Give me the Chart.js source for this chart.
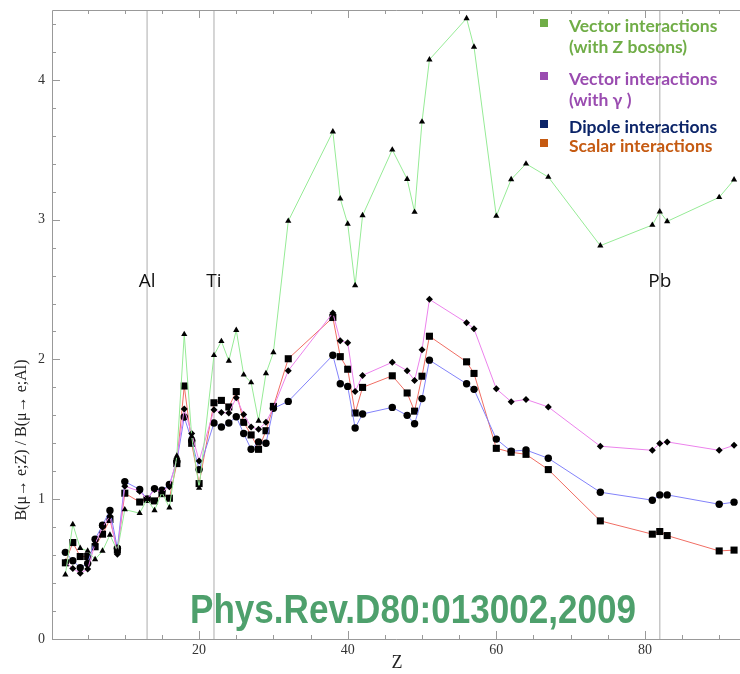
<!DOCTYPE html>
<html>
<head>
<meta charset="utf-8">
<script src="https://cdn.jsdelivr.net/npm/chart.js@4"></script>
<style>
  body { margin: 0; background: #fff; }
  canvas { display: block; }
</style>
</head>
<body>
<canvas id="grafico" width="740" height="674"></canvas>
<script>
// atomic number of each target nucleus
const Z = [2, 3, 4, 5, 6, 7, 8, 9, 10, 12, 13, 14, 15, 16, 17, 18, 19, 20,
  22, 23, 24, 25, 26, 27, 28, 29, 30, 32, 38, 39, 40, 41, 42, 46, 48, 49, 50, 51,
  56, 57, 60, 62, 64, 67, 74, 81, 82, 83, 90, 92];

// B(mu->e;Z)/B(mu->e;Al) for each model
const vectorZ = [0.46, 0.82, 0.65, 0.63, 0.57, 0.63, 0.745, 0.63, 0.926, 0.90, 1.0, 0.92, 1.05, 0.94, 1.31, 2.18, 1.45, 1.08,
  2.03, 2.13, 1.99, 2.21, 1.89, 1.835, 1.56, 1.90, 2.05, 2.99, 3.63, 3.15, 2.97, 2.53, 3.03, 3.50, 3.29, 3.055, 3.70, 4.145,
  4.44, 4.236, 3.026, 3.288, 3.40, 3.305, 2.814, 2.962, 3.057, 2.988, 3.16, 3.286];
const vectorPhoton = [0.55, 0.505, 0.47, 0.50, 0.68, 0.80, 0.88, 0.607, 1.093, 1.057, 1.0, 1.07, 1.05, 1.09, 1.29, 1.645, 1.47, 1.274,
  1.64, 1.62, 1.617, 1.726, 1.607, 1.517, 1.50, 1.55, 1.655, 1.92, 2.333, 2.133, 2.12, 1.77, 1.886, 1.98, 1.92, 1.85, 2.07, 2.43,
  2.262, 2.219, 1.79, 1.698, 1.714, 1.66, 1.379, 1.35, 1.398, 1.41, 1.35, 1.386];
const dipole = [0.62, 0.56, 0.51, 0.54, 0.714, 0.814, 0.92, 0.65, 1.126, 1.07, 1.0, 1.076, 1.064, 1.105, 1.27, 1.588, 1.42, 1.212,
  1.545, 1.517, 1.545, 1.59, 1.47, 1.357, 1.41, 1.40, 1.65, 1.70, 2.03, 1.826, 1.807, 1.51, 1.61, 1.657, 1.60, 1.54, 1.72, 1.995,
  1.826, 1.786, 1.43, 1.343, 1.352, 1.293, 1.05, 0.993, 1.031, 1.031, 0.964, 0.979];
const scalar = [0.545, 0.69, 0.59, 0.59, 0.66, 0.75, 0.855, 0.636, 1.043, 0.98, 1.0, 0.988, 1.04, 1.007, 1.255, 1.81, 1.40, 1.112,
  1.69, 1.707, 1.66, 1.77, 1.55, 1.46, 1.357, 1.49, 1.664, 2.005, 2.30, 2.02, 1.93, 1.617, 1.80, 1.883, 1.76, 1.63, 1.88, 2.166,
  1.983, 1.90, 1.364, 1.336, 1.321, 1.212, 0.845, 0.75, 0.769, 0.74, 0.63, 0.636];

const xTicks = [20, 40, 60, 80];
const yTicks = [0, 1, 2, 3, 4];
const elementos = ['Al', 'Ti', 'Pb'];
const elementosZ = [13, 22, 82];

const legenda = [
  { linhas: ['Vector interactions', '(with Z bosons)'], cor: '#70ad47' },
  { linhas: ['Vector interactions', '(with \u03b3 )'], cor: '#9a4cb0' },
  { linhas: ['Dipole interactions'], cor: '#0b2468' },
  { linhas: ['Scalar interactions'], cor: '#c55a11' }
];

function pontos(ys) {
  return Z.map((z, i) => ({ x: z, y: ys[i] }));
}

function semPadding(s) {
  s.paddingLeft = 0;
  s.paddingRight = 0;
  s.paddingTop = 0;
  s.paddingBottom = 0;
}

const moldura = {
  id: 'moldura',
  beforeDatasetsDraw(chart) {
    const { ctx, chartArea: a, scales: { x, y } } = chart;
    ctx.save();
    // vertical lines at Al, Ti, Pb
    ctx.strokeStyle = '#c8c8c8';
    ctx.lineWidth = 1.5;
    elementosZ.forEach(z => {
      const px = x.getPixelForValue(z);
      ctx.beginPath();
      ctx.moveTo(px, a.top);
      ctx.lineTo(px, a.bottom);
      ctx.stroke();
    });
    // frame
    ctx.strokeStyle = '#999';
    ctx.lineWidth = 1;
    ctx.beginPath();
    ctx.moveTo(a.right + 5, a.top + 0.5);
    ctx.lineTo(a.left + 0.5, a.top + 0.5);
    ctx.lineTo(a.left + 0.5, a.bottom + 0.5);
    ctx.lineTo(a.right + 5, a.bottom + 0.5);
    ctx.stroke();
    // inward ticks
    ctx.beginPath();
    for (let v = 0; v <= 4.41; v += 0.2) {
      const py = Math.round(y.getPixelForValue(v)) + 0.5;
      const len = Math.abs(v - Math.round(v)) < 0.01 ? 8 : 4;
      ctx.moveTo(a.left, py);
      ctx.lineTo(a.left + len, py);
    }
    for (let z = 5; z <= 90; z += 5) {
      const px = Math.round(x.getPixelForValue(z)) + 0.5;
      const len = z % 20 === 0 ? 8 : 4;
      ctx.moveTo(px, a.bottom);
      ctx.lineTo(px, a.bottom - len);
      ctx.moveTo(px, a.top);
      ctx.lineTo(px, a.top + len);
    }
    ctx.stroke();
    ctx.restore();
  },
  afterDraw(chart) {
    const { ctx, scales: { x, y } } = chart;
    ctx.save();
    // element labels
    ctx.fillStyle = '#111';
    ctx.font = '19px "Open Sans"';
    ctx.textAlign = 'center';
    ctx.textBaseline = 'middle';
    elementos.forEach((nome, i) => {
      ctx.fillText(nome, x.getPixelForValue(elementosZ[i]), y.getPixelForValue(2.56));
    });
    // axis titles
    ctx.fillStyle = '#222';
    ctx.font = '16px "Liberation Serif"';
    ctx.save();
    ctx.translate(22, 440);
    ctx.rotate(-Math.PI / 2);
    ctx.fillText('B(\u03bc\u2192 e;Z) / B(\u03bc\u2192 e;Al)', 0, 0);
    ctx.restore();
    ctx.font = '18px "Liberation Serif"';
    ctx.fillText('Z', 397, 663);
    // legend
    ctx.textAlign = 'left';
    ctx.textBaseline = 'alphabetic';
    ctx.font = 'bold 17.5px Lato';
    const base = [32, 85, 133, 152];
    legenda.forEach((item, i) => {
      ctx.fillStyle = item.cor;
      ctx.fillRect(540, base[i] - 13, 8, 8);
      item.linhas.forEach((t, j) => {
        ctx.fillText(t, 569, base[i] + j * 21);
      });
    });
    // reference
    ctx.fillStyle = '#4ea06c';
    ctx.font = 'bold 41px "Liberation Sans"';
    const ref = 'Phys.Rev.D80:013002,2009';
    const w = ctx.measureText(ref).width;
    ctx.translate(190, 623);
    ctx.scale(446 / w, 1);
    ctx.fillText(ref, 0, 0);
    ctx.restore();
  }
};

const ctx = document.getElementById('grafico');

new Chart(ctx, {
  type: 'line',
  data: {
    datasets: [
      {
        label: 'Vector interactions (with Z bosons)',
        data: pontos(vectorZ),
        borderColor: 'rgb(150,235,150)',
        pointStyle: 'triangle',
        pointRadius: 3.6
      },
      {
        label: 'Vector interactions (with photon)',
        data: pontos(vectorPhoton),
        borderColor: 'rgb(236,130,236)',
        pointStyle: 'rectRot',
        pointRadius: 3.5
      },
      {
        label: 'Dipole interactions',
        data: pontos(dipole),
        borderColor: 'rgb(130,130,250)',
        pointStyle: 'circle',
        pointRadius: 3.7
      },
      {
        label: 'Scalar interactions',
        data: pontos(scalar),
        borderColor: 'rgb(240,110,100)',
        pointStyle: 'rect',
        pointRadius: 5
      }
    ].map(d => Object.assign(d, {
      borderWidth: 1,
      pointBackgroundColor: '#000',
      pointBorderColor: '#000',
      pointBorderWidth: 0,
      tension: 0,
      fill: false,
      clip: false
    }))
  },
  options: {
    responsive: false,
    animation: false,
    layout: { autoPadding: false, padding: { top: 10, left: 0, right: 0, bottom: 0 } },
    plugins: {
      legend: { display: false },
      tooltip: { enabled: false }
    },
    scales: {
      x: {
        type: 'linear',
        min: 0.2,
        max: 92.8,
        grid: { display: false, drawTicks: false },
        border: { display: false },
        afterBuildTicks: s => { s.ticks = xTicks.map(v => ({ value: v })); },
        afterFit: s => { s.height = 35; semPadding(s); },
        ticks: {
          font: { family: 'Liberation Serif', size: 14 },
          color: '#333',
          padding: 3,
          maxRotation: 0
        }
      },
      y: {
        min: 0,
        max: 4.5,
        grid: { display: false, drawTicks: false },
        border: { display: false },
        afterBuildTicks: s => { s.ticks = yTicks.map(v => ({ value: v })); },
        afterFit: s => { s.width = 52; semPadding(s); },
        ticks: {
          font: { family: 'Liberation Serif', size: 14 },
          color: '#333',
          padding: 7
        }
      }
    }
  },
  plugins: [moldura]
});
</script>
</body>
</html>
